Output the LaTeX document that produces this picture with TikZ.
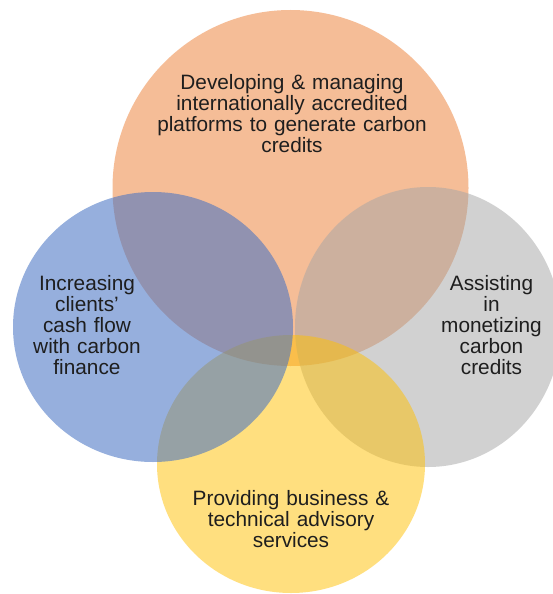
\documentclass[tikz,border=0pt]{standalone}
\usepackage{fontspec}
\setmainfont{Liberation Sans}
\usetikzlibrary{shapes.geometric}
\definecolor{corange}{HTML}{ED7D31}
\definecolor{cblue}{HTML}{4472C4}
\definecolor{cgray}{HTML}{A5A5A5}
\definecolor{cyellow}{HTML}{FFC000}
\definecolor{ctext}{HTML}{1E1E1E}
\begin{document}
\begin{tikzpicture}[x=1pt,y=-1pt,
  venn/.style={ellipse, inner sep=0pt, outer sep=0pt, draw=none, fill opacity=0.5},
  lbl/.style={text width=300pt, align=center, text=ctext, inner sep=0pt, anchor=base,
    font=\fontsize{20.8}{21}\selectfont}]
\fill[white] (0,0) rectangle (553,594);
\useasboundingbox (0,0) rectangle (553,594);
\clip (0,0) rectangle (553,594);
\node[venn, fill=corange, minimum width=356pt, minimum height=356pt] (top) at (290.5,188) {};
\node[venn, fill=cgray, minimum width=266pt, minimum height=280pt] (right) at (428,327) {};
\node[venn, fill=cyellow, minimum width=268pt, minimum height=258pt] (bottom) at (291,464) {};
\node[venn, fill=cblue, fill opacity=0.56, minimum width=280pt, minimum height=270pt] (left) at (153,327) {};
\node[lbl] (ttop) at (292,89.5) {Developing \& managing\\internationally accredited\\platforms to generate carbon\\credits};
\node[lbl] (tleft) at (87,290) {Increasing\\clients'\\cash flow\\with carbon\\finance};
\node[lbl] (tright) at (491.5,290) {Assisting\\in\\monetizing\\carbon\\credits};
\node[lbl] (tbottom) at (291,505) {Providing business \&\\technical advisory\\services};
\end{tikzpicture}
\end{document}
